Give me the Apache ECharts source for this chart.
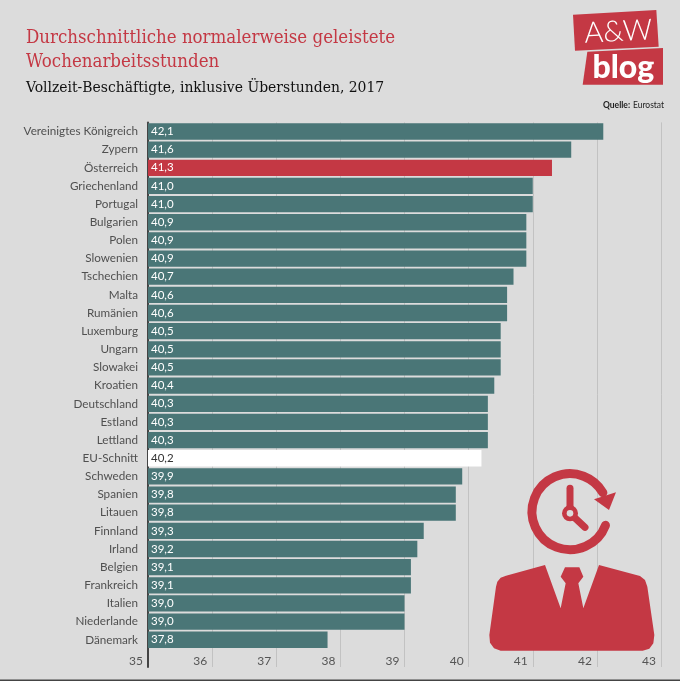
<!DOCTYPE html>
<html>
<head>
<meta charset="utf-8">
<style>
html, body { margin: 0; padding: 0; background: #dcdcdc; }
#chart { width: 680px; height: 681px; }
</style>
<script src="https://cdn.jsdelivr.net/npm/echarts@6/dist/echarts.min.js"></script>
</head>
<body>
<div id="chart"></div>
<script>
var categories = ['Vereinigtes Königreich', 'Zypern', 'Österreich', 'Griechenland', 'Portugal', 'Bulgarien', 'Polen', 'Slowenien', 'Tschechien', 'Malta', 'Rumänien', 'Luxemburg', 'Ungarn', 'Slowakei', 'Kroatien', 'Deutschland', 'Estland', 'Lettland', 'EU-Schnitt', 'Schweden', 'Spanien', 'Litauen', 'Finnland', 'Irland', 'Belgien', 'Frankreich', 'Italien', 'Niederlande', 'Dänemark'];
var hours = [42.1, 41.6, 41.3, 41.0, 41.0, 40.9, 40.9, 40.9, 40.7, 40.6, 40.6, 40.5, 40.5, 40.5, 40.4, 40.3, 40.3, 40.3, 40.2, 39.9, 39.8, 39.8, 39.3, 39.2, 39.1, 39.1, 39.0, 39.0, 37.8];

var RED = '#c43844';
var TEAL = '#4a7677';
var BG = '#dcdcdc';
var LABEL_FONT = 'Lato';
var TITLE_FONT = '"DejaVu Serif Condensed", "DejaVu Serif"';

function barColor(name) {
	if (name == 'Österreich') return RED;
	if (name == 'EU-Schnitt') return '#ffffff';
	return TEAL;
}

var barData = hours.map(function(v, i) {
	return {
		value: v,
		itemStyle: { color: barColor(categories[i]) },
		label: { color: categories[i] == 'EU-Schnitt' ? '#333333' : '#ffffff' }
	};
});
// empty last row holds the x axis labels
var rowNames = categories.concat(['']);
barData.push(null);

// icon and logo were measured on 3x crops, these map crop coords to the page
function ic(x, y) { return [470 + x / 3, 450 + y / 3]; }
function lg(x, y) { return [480 + x / 3, y / 3]; }
function icPts(list) { return list.map(function(p) { return ic(p[0], p[1]); }); }
function lgPts(list) { return list.map(function(p) { return lg(p[0], p[1]); }); }

var clockC = ic(300, 185);
var graphics = [
	{ type: 'polygon', z: 10, shape: { points: lgPts([[279, 44], [529, 30], [536, 140], [285, 152]]) }, style: { fill: RED } },
	{ type: 'polygon', z: 10, shape: { points: lgPts([[322, 155], [549, 144], [549, 254], [308, 254]]) }, style: { fill: RED } },
	{ type: 'text', z: 11, x: lg(415, 95)[0], y: lg(415, 95)[1], rotation: 0.05, style: { text: 'A&W', fill: '#fff', fontFamily: 'Lato', fontWeight: 300, fontSize: 29, textAlign: 'center', textVerticalAlign: 'middle' } },
	{ type: 'text', z: 11, x: lg(430, 203)[0], y: lg(430, 203)[1], style: { text: 'blog', fill: '#fff', fontFamily: 'Lato', fontWeight: 900, fontSize: 32, textAlign: 'center', textVerticalAlign: 'middle' } },
	{
		type: 'text', z: 11, x: 603, y: 99, scaleX: 0.85,
		style: {
			text: '{b|Quelle:} {n|Eurostat}',
			rich: {
				b: { fontFamily: 'Lato', fontWeight: 'bold', fontSize: 10, fill: '#222' },
				n: { fontFamily: 'Lato', fontSize: 10, fill: '#222' }
			}
		}
	},
	// person with tie
	{
		type: 'polygon', z: 10,
		shape: {
			points: icPts([[225, 345], [108, 377], [92, 383], [82, 395], [78, 410], [58, 555], [60, 578], [72, 595], [92, 602], [518, 602], [538, 596], [550, 580], [553, 555], [532, 410], [525, 390], [510, 378], [387, 345], [340, 475], [325, 400], [340, 380], [328, 352], [285, 352], [272, 380], [287, 400], [272, 475]])
		},
		style: { fill: RED }
	},
	// clock with arrow
	{
		type: 'arc', z: 10,
		shape: { cx: clockC[0], cy: clockC[1], r: 38, startAngle: 21 * Math.PI / 180, endAngle: 330 * Math.PI / 180, clockwise: true },
		style: { stroke: RED, fill: null, lineWidth: 9, lineCap: 'round' }
	},
	{ type: 'polygon', z: 10, shape: { points: icPts([[372, 148], [438, 127], [417, 180]]) }, style: { fill: RED } },
	{ type: 'line', z: 10, shape: { x1: ic(300, 187)[0], y1: ic(300, 187)[1], x2: ic(300, 115)[0], y2: ic(300, 115)[1] }, style: { stroke: RED, lineWidth: 7, lineCap: 'round' } },
	{ type: 'line', z: 10, shape: { x1: ic(300, 190)[0], y1: ic(300, 190)[1], x2: ic(345, 232)[0], y2: ic(345, 232)[1] }, style: { stroke: RED, lineWidth: 7, lineCap: 'round' } },
	{ type: 'circle', z: 10, shape: { cx: ic(300, 190)[0], cy: ic(300, 190)[1], r: 8 }, style: { fill: RED } },
	{ type: 'circle', z: 11, shape: { cx: ic(300, 190)[0], cy: ic(300, 190)[1], r: 3.3 }, style: { fill: BG } },
	// dark edge at the bottom of the picture
	{ type: 'rect', z: 11, shape: { x: 0, y: 679.5, width: 680, height: 1.5 }, style: { fill: '#444444' } }
];

var myChart = echarts.init(document.getElementById('chart'));
myChart.setOption({
	backgroundColor: BG,
	animation: false,
	title: [
		{
			text: 'Durchschnittliche normalerweise geleistete\nWochenarbeitsstunden',
			left: 21, top: 21,
			textStyle: { color: RED, fontFamily: TITLE_FONT, fontWeight: 'normal', fontSize: 18.5, lineHeight: 24 }
		},
		{
			text: 'Vollzeit-Beschäftigte, inklusive Überstunden, 2017',
			left: 21, top: 73,
			textStyle: { color: '#111111', fontFamily: TITLE_FONT, fontWeight: 'normal', fontSize: 15.5, lineHeight: 20 }
		}
	],
	grid: { left: 148, right: 19, top: 122.4, bottom: 14, containLabel: false },
	xAxis: {
		type: 'value',
		min: 35,
		max: 43,
		interval: 1,
		axisLine: { show: false },
		axisTick: { show: false },
		splitLine: { show: true, lineStyle: { color: '#c2c2c2', width: 1 } },
		axisLabel: {
			inside: true,
			margin: 0,
			align: 'right',
			padding: [0, 5, 0, 0],
			showMinLabel: true,
			showMaxLabel: true,
			color: '#555555',
			fontFamily: LABEL_FONT,
			fontSize: 12
		}
	},
	yAxis: {
		type: 'category',
		data: rowNames,
		inverse: true,
		axisTick: { show: false },
		axisLine: { show: true, onZero: false, lineStyle: { color: '#444444', width: 2 } },
		axisLabel: { interval: 0, margin: 10, color: '#505050', fontFamily: LABEL_FONT, fontSize: 11.7 }
	},
	series: [{
		type: 'bar',
		data: barData,
		barWidth: 16.3,
		label: {
			show: true,
			position: 'insideLeft',
			distance: 3,
			fontFamily: LABEL_FONT,
			fontSize: 11.5,
			formatter: function(p) {
				return p.value.toFixed(1).replace('.', ',');
			}
		}
	}],
	graphic: graphics
});
</script>
</body>
</html>
